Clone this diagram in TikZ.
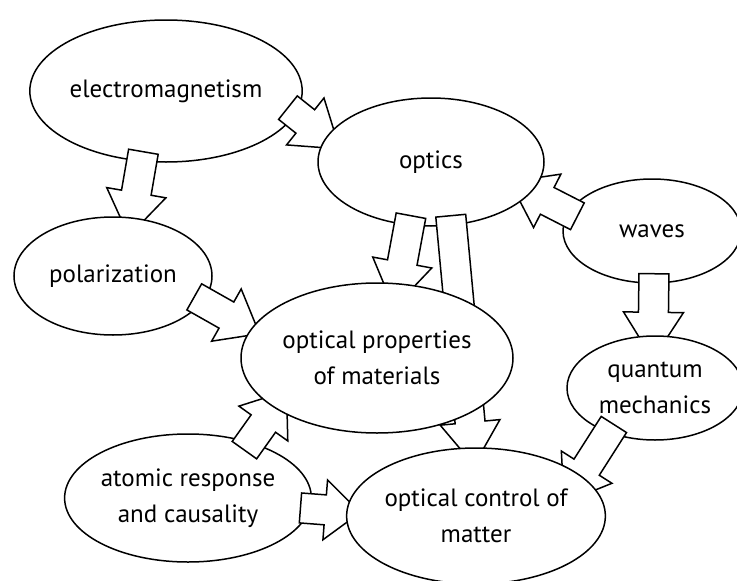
\documentclass[tikz,border=0pt]{standalone}
\usepackage{fontspec}
\setmainfont{PT Sans}
\usetikzlibrary{calc,shapes.geometric}

\pgfdeclarelayer{tier1}
\pgfdeclarelayer{arrows1}
\pgfdeclarelayer{tier2}
\pgfdeclarelayer{arrows2}
\pgfsetlayers{tier1,arrows1,tier2,arrows2,main}

\tikzset{
  topic/.style={draw, ellipse, fill=white, line width=1.5pt, inner sep=0pt,
    align=center, font=\fontsize{25}{36}\selectfont},
  blockarrow/.style={draw, fill=white, line width=1.5pt, line join=miter},
}

% #1 from, #2 to, #3 how far the tip runs into #2, #4 head length
\newcommand{\bigarrow}[4]{%
  \coordinate (tl) at ($(#1)!-10pt!(#2)$);
  \coordinate (tp) at ($(#2)!-#3!(#1)$);
  \coordinate (hb) at ($(tp)!#4!(tl)$);
  \draw[blockarrow] ($(tl)!15pt!90:(tp)$) -- ($(hb)!15pt!-90:(tl)$)
    -- ($(hb)!30pt!-90:(tl)$) -- (tp) -- ($(hb)!30pt!90:(tl)$)
    -- ($(hb)!15pt!90:(tl)$) -- ($(tl)!15pt!-90:(tp)$) -- cycle;
}

\begin{document}
\begin{tikzpicture}[x=1pt,y=-1pt]
  \useasboundingbox (0,0) rectangle (737,581);
  \clip (0,0) rectangle (737,581);

  \begin{pgfonlayer}{tier1}
    \node[topic, minimum width=242pt, minimum height=142pt] (em) at (166,91) {electromagnetism};
    \node[topic, minimum width=178pt, minimum height=104pt] (waves) at (652,231) {waves};
    \node[topic, minimum width=226pt, minimum height=128pt] (atomic) at (188,498) {atomic response\\and causality};
  \end{pgfonlayer}
  \begin{pgfonlayer}{tier2}
    \node[topic, minimum width=226pt, minimum height=128pt] (optics) at (431,162) {optics};
    \node[topic, minimum width=198pt, minimum height=118pt] (pol) at (113,276) {polarization};
    \node[topic, minimum width=176pt, minimum height=104pt] (qm) at (655,388) {quantum\\mechanics};
  \end{pgfonlayer}
  \node[topic, minimum width=272pt, minimum height=150pt] (props) at (377,358) {optical properties\\of materials};
  \node[topic, minimum width=256pt, minimum height=136pt] (control) at (476,516) {optical control of\\matter};

  \begin{pgfonlayer}{arrows1}
    \bigarrow{em.-10}{optics.167}{18pt}{44pt}
    \bigarrow{em.251}{pol.72}{19pt}{44pt}
    \bigarrow{waves.167}{optics.343}{24pt}{42pt}
    \bigarrow{waves.272}{qm.92}{24pt}{47pt}
    \bigarrow{atomic.42}{props.206}{21pt}{40pt}
    \bigarrow{atomic.355}{control.178}{14pt}{35pt}
  \end{pgfonlayer}
  \begin{pgfonlayer}{arrows2}
    \bigarrow{pol.344}{props.167}{10pt}{38pt}
    \bigarrow{optics.251}{props.74}{25pt}{46pt}
    \bigarrow{optics.288}{control.93}{18pt}{43pt}
    \bigarrow{qm.224}{control.21}{32pt}{42pt}
  \end{pgfonlayer}
\end{tikzpicture}
\end{document}
